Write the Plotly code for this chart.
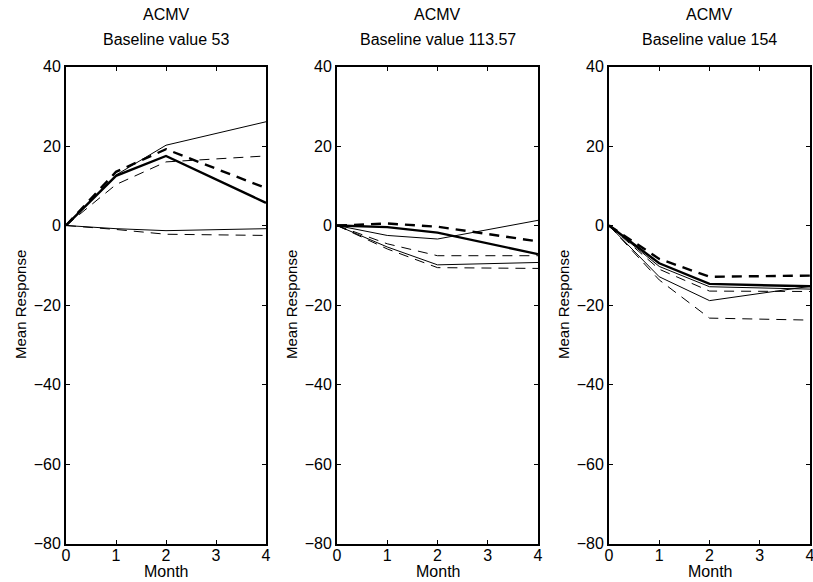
import plotly.graph_objects as go

months = [0, 1, 2, 4]
baselines = ["53", "113.57", "154"]

# panel 1 (baseline 53)
p1_solid_thick = [0, 12.5, 17.5, 5.7]
p1_solid_thin_hi = [0, 12.7, 20.2, 26.1]
p1_solid_thin_lo = [0, -0.8, -1.3, -0.8]
p1_dash_thick = [0, 13.5, 19.2, 9.4]
p1_dash_thin_hi = [0, 10.3, 16.0, 17.5]
p1_dash_thin_lo = [0, -1.0, -2.2, -2.5]

# panel 2 (baseline 113.57)
p2_solid_thick = [0, -0.4, -1.8, -7.2]
p2_solid_thin_hi = [0, -2.5, -3.4, 1.3]
p2_solid_thin_lo = [0, -5.4, -9.9, -9.3]
p2_dash_thick = [0, 0.5, -0.3, -4.0]
p2_dash_thin_hi = [0, -4.6, -7.6, -7.6]
p2_dash_thin_lo = [0, -5.9, -10.6, -10.8]

# panel 3 (baseline 154)
p3_solid_thick = [0, -9.5, -14.7, -15.3]
p3_solid_thin_hi = [0, -10.3, -15.4, -16.0]
p3_solid_thin_lo = [0, -12.9, -18.9, -15.3]
p3_dash_thick = [0, -8.4, -12.9, -12.6]
p3_dash_thin_hi = [0, -11.0, -16.5, -16.6]
p3_dash_thin_lo = [0, -13.7, -23.3, -23.8]

panels = [
    [p1_solid_thick, p1_solid_thin_hi, p1_solid_thin_lo, p1_dash_thick, p1_dash_thin_hi, p1_dash_thin_lo],
    [p2_solid_thick, p2_solid_thin_hi, p2_solid_thin_lo, p2_dash_thick, p2_dash_thin_hi, p2_dash_thin_lo],
    [p3_solid_thick, p3_solid_thin_hi, p3_solid_thin_lo, p3_dash_thick, p3_dash_thin_hi, p3_dash_thin_lo],
]
styles = [
    dict(width=2.4, dash="solid"),
    dict(width=1, dash="solid"),
    dict(width=1, dash="solid"),
    dict(width=2.4, dash="10px,7px"),
    dict(width=1, dash="10px,7px"),
    dict(width=1, dash="10px,7px"),
]

W, H = 813, 582
x_px = [(66, 266), (337, 538), (609, 810)]
y_px = (66.5, 543.5)
font = "Liberation Sans, Arial, sans-serif"

fig = go.Figure()
for i, series in enumerate(panels):
    n = "" if i == 0 else str(i + 1)
    for ys, st in zip(series, styles):
        fig.add_trace(go.Scatter(
            x=months, y=ys, mode="lines", xaxis="x" + n, yaxis="y" + n,
            line=dict(color="black", width=st["width"], dash=st["dash"]),
            showlegend=False, hoverinfo="skip",
        ))
    axis_common = dict(showline=True, mirror="ticks", linecolor="black", linewidth=2,
                       ticks="inside", ticklen=4, tickwidth=1, tickcolor="black",
                       showgrid=False, zeroline=False, automargin=False,
                       ticklabeloverflow="allow", tickfont=dict(size=16, color="black"))
    fig.update_layout({
        "xaxis" + n: dict(domain=[x_px[i][0] / W, x_px[i][1] / W], range=[0, 4],
                          tickvals=[0, 1, 2, 3, 4], anchor="y" + n, ticklabelstandoff=-4,
                          **axis_common),
        "yaxis" + n: dict(domain=[1 - y_px[1] / H, 1 - y_px[0] / H], range=[-80, 40],
                          tickvals=[-80, -60, -40, -20, 0, 20, 40], anchor="x" + n, **axis_common),
    })
    cx = (x_px[i][0] + x_px[i][1]) / 2 / W
    labels = [("ACMV", cx, 14, 0, 16), ("Baseline value " + baselines[i], cx, 40, 0, 16),
              ("Month", cx, 571, 0, 16), ("Mean Response", (x_px[i][0] - 46) / W, 305, -90, 15)]
    for txt, ax, py, ang, fs in labels:
        fig.add_annotation(text=txt, x=ax, y=1 - py / H, xref="paper", yref="paper",
                           xanchor="center", yanchor="middle", showarrow=False,
                           textangle=ang, font=dict(size=fs))

fig.update_layout(
    width=W, height=H,
    margin=dict(l=0, r=0, t=0, b=0),
    plot_bgcolor="white", paper_bgcolor="white",
    font=dict(family=font, color="black"),
)

fig.write_html("out.html", config={"displayModeBar": False},
               post_script="document.body.style.margin='0px';")
